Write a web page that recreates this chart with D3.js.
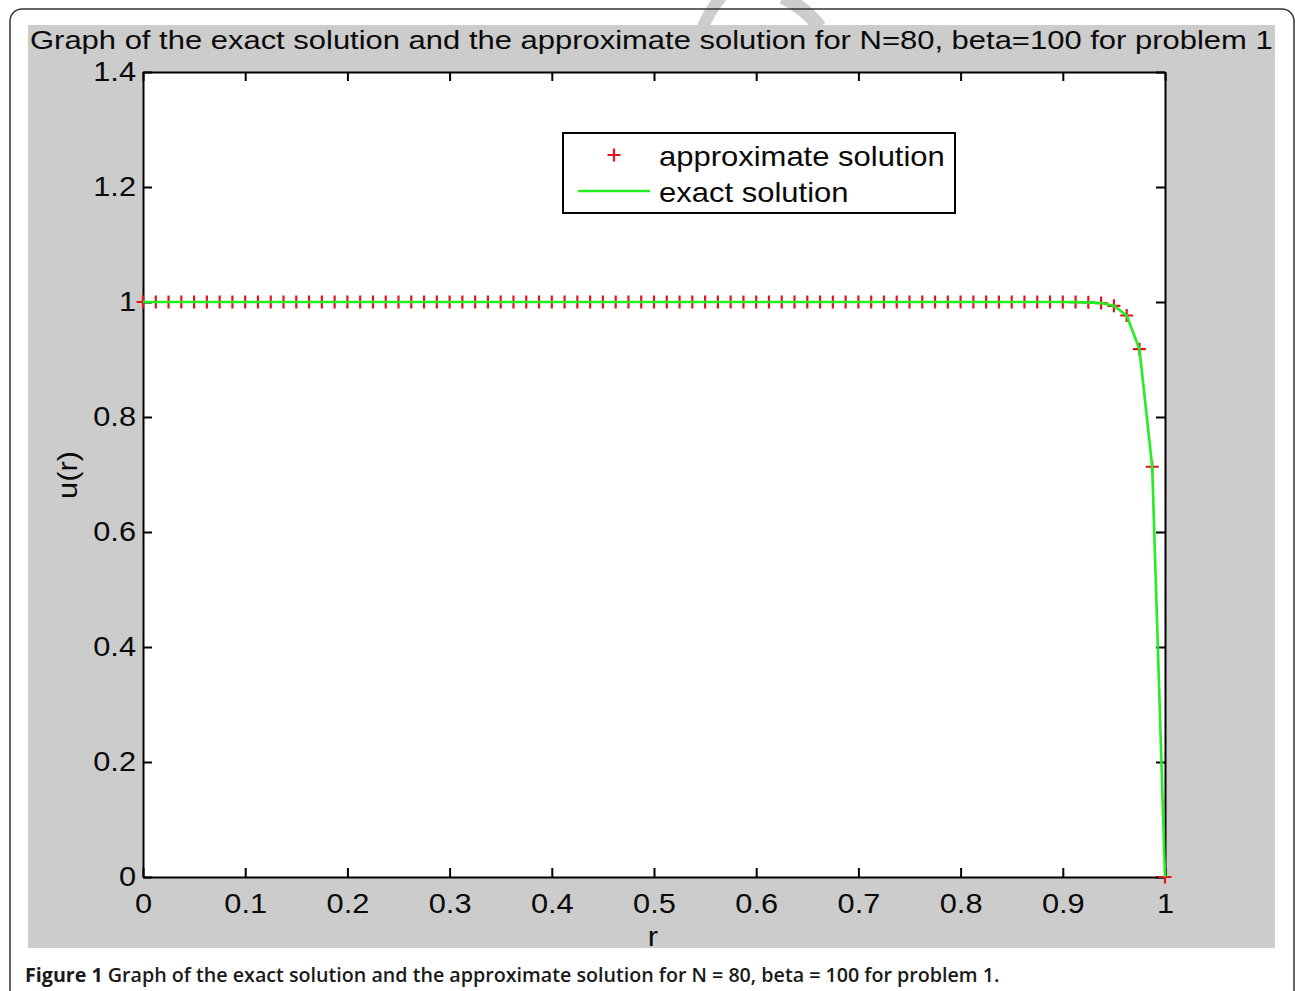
<!DOCTYPE html>
<html>
<head>
<meta charset="utf-8">
<script src="https://cdn.jsdelivr.net/npm/d3@7/dist/d3.min.js"></script>
<style>
  html, body { margin: 0; padding: 0; background: #ffffff; }
  svg { display: block; }
</style>
</head>
<body>
<svg id="chart" width="1295" height="991"></svg>
<script>
// ---------------- DATA ----------------
const titleText = "Graph of the exact solution and the approximate solution for N=80, beta=100 for problem 1";
const captionBold = "Figure 1";
const captionRest = " Graph of the exact solution and the approximate solution for N = 80, beta = 100 for problem 1.";
const xLabel = "r";
const yLabel = "u(r)";
const legendLabels = ["approximate solution", "exact solution"];

const xTicks = [0, 0.1, 0.2, 0.3, 0.4, 0.5, 0.6, 0.7, 0.8, 0.9, 1];
const xTickLabels = ["0", "0.1", "0.2", "0.3", "0.4", "0.5", "0.6", "0.7", "0.8", "0.9", "1"];
const yTicks = [0, 0.2, 0.4, 0.6, 0.8, 1, 1.2, 1.4];
const yTickLabels = ["0", "0.2", "0.4", "0.6", "0.8", "1", "1.2", "1.4"];

const rValues = [0, 0.0125, 0.025, 0.0375, 0.05, 0.0625, 0.075, 0.0875, 0.1, 0.1125,
  0.125, 0.1375, 0.15, 0.1625, 0.175, 0.1875, 0.2, 0.2125, 0.225, 0.2375,
  0.25, 0.2625, 0.275, 0.2875, 0.3, 0.3125, 0.325, 0.3375, 0.35, 0.3625,
  0.375, 0.3875, 0.4, 0.4125, 0.425, 0.4375, 0.45, 0.4625, 0.475, 0.4875,
  0.5, 0.5125, 0.525, 0.5375, 0.55, 0.5625, 0.575, 0.5875, 0.6, 0.6125,
  0.625, 0.6375, 0.65, 0.6625, 0.675, 0.6875, 0.7, 0.7125, 0.725, 0.7375,
  0.75, 0.7625, 0.775, 0.7875, 0.8, 0.8125, 0.825, 0.8375, 0.85, 0.8625,
  0.875, 0.8875, 0.9, 0.9125, 0.925, 0.9375, 0.95, 0.9625, 0.975, 0.9875, 1];

const approxU = [1, 1, 1, 1, 1, 1, 1, 1, 1, 1,
  1, 1, 1, 1, 1, 1, 1, 1, 1, 1,
  1, 1, 1, 1, 1, 1, 1, 1, 1, 1,
  1, 1, 1, 1, 1, 1, 1, 1, 1, 1,
  1, 1, 1, 1, 1, 1, 1, 1, 1, 1,
  1, 1, 1, 1, 1, 1, 1, 1, 1, 1,
  1, 1, 1, 1, 1, 1, 1, 1, 1, 1,
  1, 1, 1, 0.9998, 0.9994, 0.9981, 0.9933, 0.9765, 0.9179, 0.7135, 0];

const exactU = [1, 1, 1, 1, 1, 1, 1, 1, 1, 1,
  1, 1, 1, 1, 1, 1, 1, 1, 1, 1,
  1, 1, 1, 1, 1, 1, 1, 1, 1, 1,
  1, 1, 1, 1, 1, 1, 1, 1, 1, 1,
  1, 1, 1, 1, 1, 1, 1, 1, 1, 1,
  1, 1, 1, 1, 1, 1, 1, 1, 1, 1,
  1, 1, 1, 1, 1, 1, 1, 1, 1, 1,
  1, 1, 1, 0.9998, 0.9994, 0.9981, 0.9933, 0.9765, 0.9179, 0.7135, 0];

// ---------------- LAYOUT ----------------
const svg = d3.select("#chart");
const FONT = "'Liberation Sans', Arial, Helvetica, sans-serif";
const SX = 1.12;      // horizontal stretch of the figure's text
const plot = { left: 143, right: 1165, top: 72, bottom: 877 };

const x = d3.scaleLinear().domain([0, 1]).range([plot.left, plot.right]);
const y = d3.scaleLinear().domain([0, 1.4]).range([plot.bottom, plot.top]);

function fitWidth(sel, x0, y0, width) {
  sel.attr("x", 0).attr("y", 0);
  const w = sel.node().getComputedTextLength();
  sel.attr("transform", `translate(${x0},${y0}) scale(${width / w},1)`);
}

// watermark fragments (under everything)
svg.append("path").attr("d", "M703,27 Q709,12 721,-3")
  .attr("fill", "none").attr("stroke", "#cdcdcd").attr("stroke-width", 12);
svg.append("path").attr("d", "M820,27 Q806,9 783,-3")
  .attr("fill", "none").attr("stroke", "#cdcdcd").attr("stroke-width", 14);

// outer rounded border
svg.append("rect").attr("x", 10).attr("y", 9).attr("width", 1284).attr("height", 1010)
  .attr("rx", 12).attr("fill", "none").attr("stroke", "#333").attr("stroke-width", 1.5);

// gray figure background
svg.append("rect").attr("x", 28).attr("y", 25).attr("width", 1247).attr("height", 923)
  .attr("fill", "#cccccc");

// plot area
svg.append("rect").attr("x", plot.left).attr("y", plot.top)
  .attr("width", plot.right - plot.left).attr("height", plot.bottom - plot.top)
  .attr("fill", "#ffffff");

// title
const title = svg.append("text").attr("font-family", FONT).attr("font-size", 26.5)
  .attr("fill", "#0a0a0a").text(titleText);
fitWidth(title, 30, 49, 1243);

// axes
function styleAxis(g) {
  g.attr("font-family", FONT).attr("font-size", 27.5);
  g.selectAll(".domain").attr("stroke", "#000").attr("stroke-width", 2);
  g.selectAll(".tick line").attr("stroke", "#000").attr("stroke-width", 2);
  g.selectAll(".tick text").attr("fill", "#0a0a0a");
}

const gx = svg.append("g").attr("transform", `translate(0,${plot.bottom})`)
  .call(d3.axisBottom(x).tickValues(xTicks).tickFormat((d, i) => xTickLabels[i])
    .tickSizeInner(-9).tickSizeOuter(0).tickPadding(16));
styleAxis(gx);
gx.selectAll(".tick text").attr("transform", `scale(${SX},1)`);

const gy = svg.append("g").attr("transform", `translate(${plot.left},0)`)
  .call(d3.axisLeft(y).tickValues(yTicks).tickFormat((d, i) => yTickLabels[i])
    .tickSizeInner(-9).tickSizeOuter(0).tickPadding(7));
styleAxis(gy);
gy.selectAll(".tick text").attr("x", -7 / SX).attr("transform", `scale(${SX},1)`);

const gt = svg.append("g").attr("transform", `translate(0,${plot.top})`)
  .call(d3.axisTop(x).tickValues(xTicks).tickFormat("").tickSizeInner(-9).tickSizeOuter(0));
styleAxis(gt);
const gr = svg.append("g").attr("transform", `translate(${plot.right},0)`)
  .call(d3.axisRight(y).tickValues(yTicks).tickFormat("").tickSizeInner(-9).tickSizeOuter(0));
styleAxis(gr);

// axis labels
svg.append("text").attr("font-family", FONT).attr("font-size", 27.5).attr("fill", "#0a0a0a")
  .attr("text-anchor", "middle")
  .attr("transform", `translate(653,946) scale(${SX},1)`).text(xLabel);
svg.append("text").attr("font-family", FONT).attr("font-size", 27.5).attr("fill", "#0a0a0a")
  .attr("text-anchor", "middle")
  .attr("transform", `translate(77,475) rotate(-90) scale(${SX},1)`).text(yLabel);

// data
const pts = rValues.map((r, i) => ({ r, a: approxU[i], e: exactU[i] }));
const M = 6.5;
const markers = svg.append("g").attr("stroke", "#e3141c").attr("stroke-width", 2.2);
markers.selectAll("path").data(pts).join("path")
  .attr("d", d => `M${x(d.r) - M},${y(d.a)}H${x(d.r) + M}M${x(d.r)},${y(d.a) - M}V${y(d.a) + M}`);

svg.append("path").datum(pts)
  .attr("fill", "none").attr("stroke", "#22ee22").attr("stroke-width", 2.6)
  .attr("stroke-linejoin", "round")
  .attr("d", d3.line().x(d => x(d.r)).y(d => y(d.e)));

// legend
svg.append("rect").attr("x", 563).attr("y", 133).attr("width", 392).attr("height", 80)
  .attr("fill", "#fff").attr("stroke", "#000").attr("stroke-width", 2);
svg.append("path").attr("d", `M${614 - M},155H${614 + M}M614,${155 - M}V${155 + M}`)
  .attr("stroke", "#e3141c").attr("stroke-width", 2.2);
svg.append("line").attr("x1", 578).attr("x2", 650).attr("y1", 191).attr("y2", 191)
  .attr("stroke", "#22ee22").attr("stroke-width", 2.6);
const l1 = svg.append("text").attr("font-family", FONT).attr("font-size", 28).attr("fill", "#0a0a0a")
  .text(legendLabels[0]);
fitWidth(l1, 659, 166, 286);
svg.append("text").attr("font-family", FONT).attr("font-size", 28).attr("fill", "#0a0a0a")
  .attr("transform", `translate(659,202) scale(${286 / l1.node().getComputedTextLength()},1)`)
  .text(legendLabels[1]);

// caption
const cap = svg.append("text").attr("font-family", "'Open Sans', 'Noto Sans', sans-serif")
  .attr("font-size", 19).attr("fill", "#1a1a1a");
cap.append("tspan").attr("font-weight", 700).text(captionBold);
cap.append("tspan").attr("font-weight", 600).text(captionRest);
fitWidth(cap, 25, 982, 975);
</script>
</body>
</html>
